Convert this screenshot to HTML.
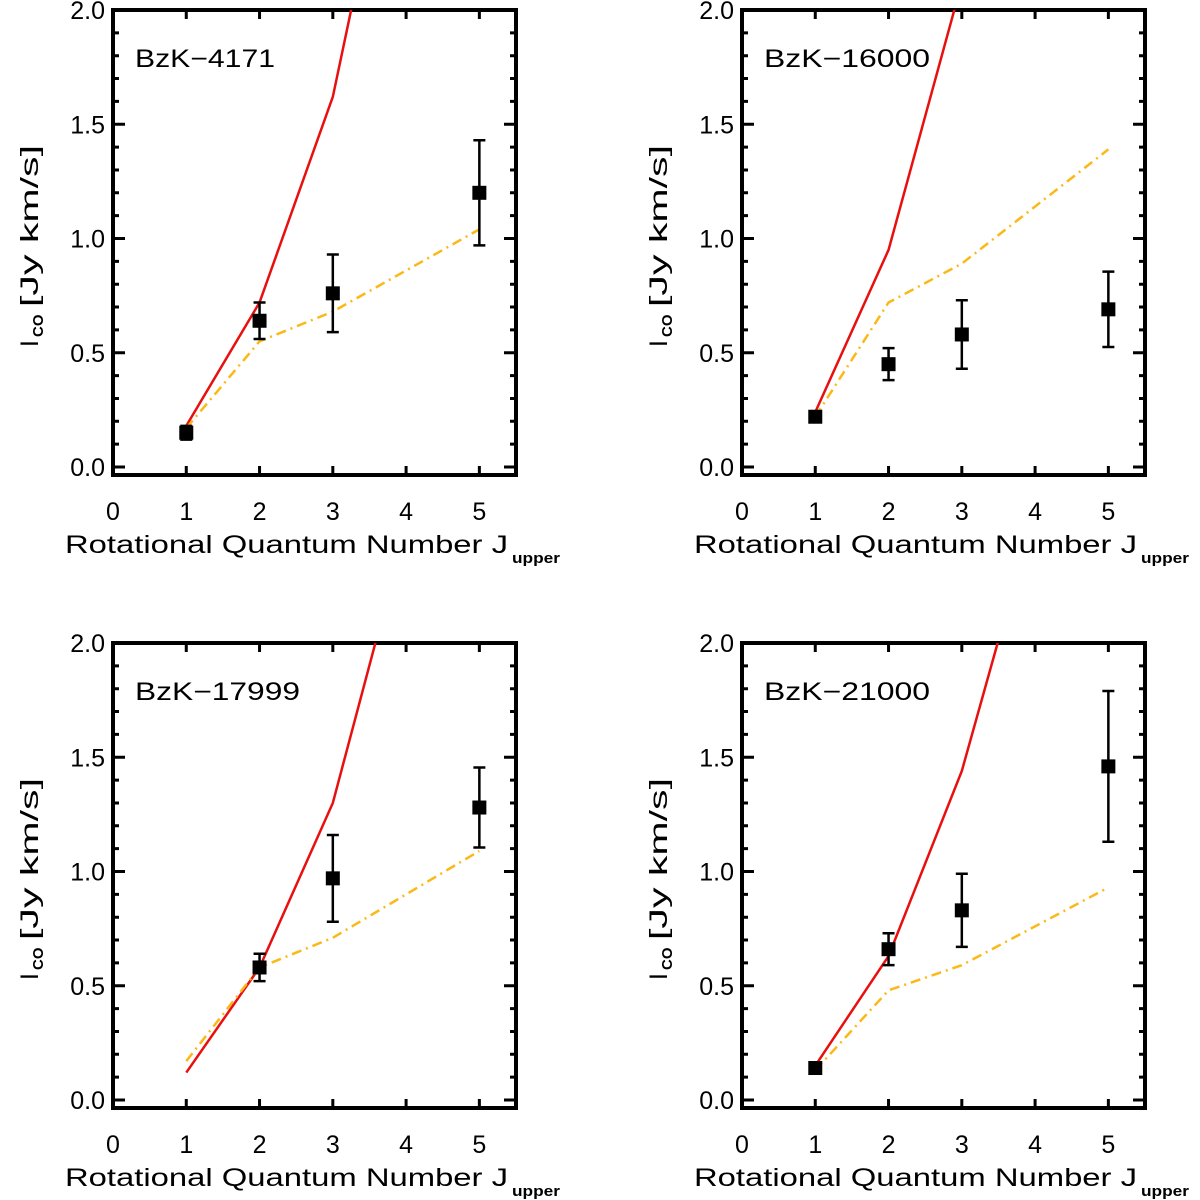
<!DOCTYPE html>
<html><head><meta charset="utf-8"><style>
html,body{margin:0;padding:0;background:#fff;width:1200px;height:1200px;overflow:hidden}
svg text{font-family:"Liberation Sans",sans-serif;fill:#000}
</style></head><body>
<svg id="fig" width="1200" height="1200" viewBox="0 0 1200 1200" xmlns="http://www.w3.org/2000/svg"></svg>
<script>
const panelNames = ["BzK−4171","BzK−16000","BzK−17999","BzK−21000"];
const obsJ = [1,2,3,5];
const obsVal = [[0.15,0.64,0.76,1.20],[0.22,0.45,0.58,0.69],[null,0.58,0.97,1.28],[0.14,0.66,0.83,1.46]];
const obsErr = [[0.03,0.08,0.17,0.23],[0.02,0.07,0.15,0.165],[null,0.06,0.19,0.175],[0.02,0.07,0.16,0.33]];
const modelJ = [1,2,3,5];
const redVal = [[0.18,0.72,1.62,4.66],[0.24,0.95,2.12,4.5],[0.12,0.58,1.30,3.71],[0.15,0.63,1.44,3.73]];
const orangeVal = [[0.17,0.55,0.68,1.04],[0.22,0.72,0.89,1.39],[0.17,0.58,0.71,1.09],[0.13,0.48,0.59,0.93]];
const xTicks = [0,1,2,3,4,5];
const yTicks = ["0.0","0.5","1.0","1.5","2.0"];
const titleLen = [140,166,165,166];

const NS="http://www.w3.org/2000/svg";
const svg=document.getElementById('fig');
function mk(tag,attrs,parent){const e=document.createElementNS(NS,tag);for(const k in attrs)e.setAttribute(k,attrs[k]);(parent||svg).appendChild(e);return e;}
const offsets=[[0,0],[629,0],[0,633],[629,633]];
const XMIN=0,XMAX=5.5,YMIN=-0.035,YMAX=2.0;
offsets.forEach((o,p)=>{
  const L=113+o[0],R=516+o[0],T=10+o[1],B=475+o[1];
  const xs=v=>L+(v-XMIN)/(XMAX-XMIN)*(R-L);
  const ys=v=>B-(v-YMIN)/(YMAX-YMIN)*(B-T);
  const g=mk('g',{});
  
  
  const cp=mk('clipPath',{id:'c'+p},g);mk('rect',{x:L,y:T,width:R-L,height:B-T},cp);
  xTicks.forEach(t=>{
    const x=xs(t);
    const tk=mk('path',{d:`M${x},${B}v-9M${x},${T}v9`,stroke:'#000','stroke-width':3},g);
    
    
    const tl=mk('text',{x:x,y:B+45,'font-size':25,'text-anchor':'middle'},g);tl.textContent=t;
    
    
  });
  for(let i=0;i<=20;i++){
    const v=i*0.1,y=ys(v),len=(i%5===0)?12:6;
    mk('path',{d:`M${L},${y}h${len}M${R},${y}h${-len}`,stroke:'#000','stroke-width':3},g);
  }
  yTicks.forEach(t=>{
    const tl=mk('text',{x:L-8,y:ys(parseFloat(t))+9,'font-size':25,'text-anchor':'end'},g);tl.textContent=t;
    
    
  });
  const fr=mk('rect',{x:L,y:T,width:R-L,height:B-T,fill:'none',stroke:'#000','stroke-width':4},g);
  
  
  const cg=mk('g',{'clip-path':`url(#c${p})`},g);
  const rl=mk('polyline',{points:modelJ.map((j,i)=>xs(j)+','+ys(redVal[p][i])).join(' '),fill:'none',stroke:'#e8100f','stroke-width':2.5},cg);
  
  
  const ol=mk('polyline',{points:modelJ.map((j,i)=>xs(j)+','+ys(orangeVal[p][i])).join(' '),fill:'none',stroke:'#fbb917','stroke-width':2.5,'stroke-dasharray':'10,5,2,5'},cg);
  
  
  obsJ.forEach((j,i)=>{
    const v=obsVal[p][i];if(v===null)return;const e=obsErr[p][i];
    const x=xs(j);
    const eb=mk('path',{d:`M${x},${ys(v-e)}V${ys(v+e)}M${x-6},${ys(v-e)}h12M${x-6},${ys(v+e)}h12`,stroke:'#000','stroke-width':2.5,fill:'none'},g);
    
    
    const pt=mk('rect',{x:x-7,y:ys(v)-7,width:14,height:14,fill:'#000'},g);
    
    
  });
  const nm=mk('text',{x:L+22,y:T+57,'font-size':25,textLength:titleLen[p],lengthAdjust:'spacingAndGlyphs'},g);nm.textContent=panelNames[p];
  
  
  const xl=mk('text',{x:L-48,y:B+78,'font-size':25,textLength:443,lengthAdjust:'spacingAndGlyphs'},g);
  xl.textContent='Rotational  Quantum  Number  J';
  xl.setAttribute('xml:space','preserve');
  
  
  const xs2=mk('text',{x:L+399,y:B+88,'font-size':15,'font-weight':'bold',textLength:48,lengthAdjust:'spacingAndGlyphs'},g);
  xs2.textContent='upper';
  
  
  const yg=mk('g',{transform:`translate(${38+o[0]} ${347+o[1]}) rotate(-90)`},g);
  
  
  const t1=mk('text',{x:0,y:0,'font-size':25},yg);t1.textContent='I';
  const t2=mk('text',{x:10,y:5,'font-size':15,'font-weight':'bold'},yg);t2.textContent='CO';
  const t3=mk('text',{x:40,y:0,'font-size':25,textLength:162,lengthAdjust:'spacingAndGlyphs'},yg);t3.textContent='[Jy  km/s]';
  t3.setAttribute('xml:space','preserve');
});
</script>
</body></html>
